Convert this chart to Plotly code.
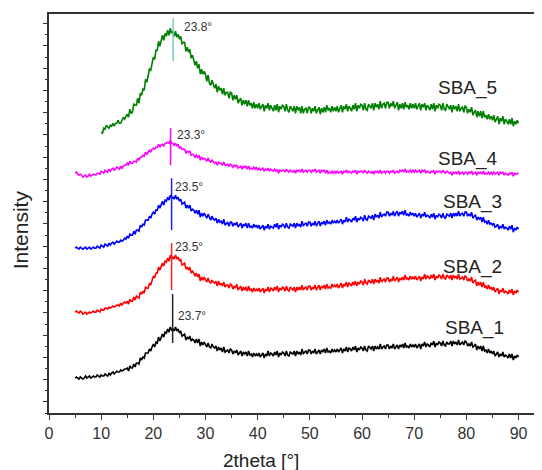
import plotly.graph_objects as go

# Intensity (a.u., curves offset vertically as in the figure), sampled every 0.25 deg
# SBA_1..SBA_4: 5 -> 90 deg ; SBA_5: 10 -> 90 deg
sba1 = [35,36,35,34,36,35,34,35,37,35,36,37,35,36,37,36,36,38,37,36,
        38,37,37,39,38,37,40,38,40,41,39,41,42,41,41,43,42,43,44,44,
        45,42,47,45,45,49,46,50,50,49,55,53,56,55,60,60,60,64,62,66,
        69,66,71,70,76,72,76,79,76,81,80,84,81,86,83,84,82,86,82,84,
        80,82,77,78,79,73,76,74,77,72,74,73,70,74,70,74,67,71,68,71,
        69,66,70,66,65,69,66,65,67,62,66,63,65,61,66,61,62,63,60,64,
        63,59,62,60,63,58,60,62,57,61,59,61,57,62,58,59,56,60,57,59,
        57,60,56,58,60,55,59,57,62,57,60,59,57,61,58,62,56,60,58,61,
        60,57,62,58,57,61,60,59,62,57,62,59,61,58,64,59,61,62,59,63,
        63,59,62,60,64,59,61,63,59,63,61,64,60,65,61,62,60,64,61,63,
        61,64,61,63,65,60,64,62,66,61,65,64,62,66,63,67,61,65,63,66,
        65,62,67,63,62,67,65,64,67,62,67,64,66,64,69,64,66,67,64,68,
        68,64,67,65,69,64,66,68,64,68,66,69,65,70,66,67,65,69,66,68,
        66,69,65,67,69,64,69,67,71,66,69,68,66,70,68,72,66,70,68,71,
        70,67,72,68,67,71,69,69,72,67,72,69,71,68,73,68,70,71,68,72,
        71,67,69,67,71,66,67,69,63,67,64,67,62,67,62,63,60,64,60,62,
        59,62,57,59,61,56,59,57,61,56,58,57,55,59,55,59,53,57,55,58,
        56]

sba2 = [101,102,101,100,102,101,99,100,101,99,100,101,100,101,102,101,101,103,102,101,
        104,103,103,105,105,104,106,105,106,107,106,107,108,108,107,110,108,110,111,110,
        112,109,114,112,112,116,113,117,116,115,121,119,122,120,126,125,125,130,128,133,
        137,135,140,140,146,143,147,150,147,152,151,155,152,158,154,156,154,158,154,156,
        152,154,148,149,150,144,146,143,146,140,142,140,137,140,136,139,132,136,133,136,
        134,131,135,131,130,133,131,130,132,127,132,128,130,127,131,126,128,128,125,129,
        128,124,127,125,129,123,125,127,122,126,123,126,122,127,123,124,121,125,122,124,
        122,125,121,123,125,120,124,122,126,121,125,124,122,126,123,127,121,125,123,126,
        125,122,127,123,122,126,124,123,126,121,126,123,126,123,128,123,125,126,123,127,
        127,123,126,124,128,123,126,128,123,127,125,128,124,129,125,126,125,129,126,128,
        126,129,125,127,130,125,129,127,131,126,130,129,127,131,128,132,127,131,129,132,
        131,128,134,130,129,133,131,130,134,129,134,131,133,130,136,131,133,134,131,135,
        135,131,134,132,137,132,134,136,131,135,133,136,133,138,134,135,133,137,134,136,
        134,137,133,135,137,132,136,134,139,134,137,136,134,138,135,139,133,137,135,138,
        137,134,139,135,134,138,136,135,138,133,138,135,137,134,139,134,135,136,133,137,
        136,132,134,132,136,130,132,133,127,131,128,131,126,131,126,127,124,128,124,126,
        123,126,121,123,125,119,123,121,125,120,122,121,119,123,120,124,118,122,120,123,
        121]

sba3 = [165,166,165,164,166,165,164,165,166,164,165,166,164,165,166,165,165,167,166,165,
        168,167,166,169,168,167,170,168,170,171,169,171,172,171,171,173,172,173,175,174,
        177,175,179,178,178,182,179,183,183,182,188,186,189,188,193,193,193,197,195,199,
        201,199,203,203,208,205,208,212,208,213,212,216,213,218,215,216,214,218,214,216,
        212,214,209,210,211,205,208,205,208,202,204,203,200,203,199,203,196,200,197,200,
        198,195,199,195,193,197,194,193,195,190,194,191,192,189,194,188,190,191,187,191,
        191,187,190,188,191,186,188,190,185,189,187,190,185,190,186,187,185,189,186,188,
        185,188,184,186,188,183,187,185,189,184,187,186,185,189,186,190,184,188,186,189,
        188,185,190,186,185,189,188,187,190,185,190,187,189,186,192,187,189,190,187,191,
        191,187,190,188,192,187,190,192,187,191,189,192,188,193,190,191,189,193,190,192,
        190,193,190,192,194,189,193,191,196,191,194,193,191,195,193,197,191,195,193,196,
        195,192,198,194,193,197,196,195,198,193,199,196,198,195,201,196,198,199,197,201,
        201,197,200,198,202,197,200,202,197,201,199,202,198,203,198,199,197,201,198,200,
        197,200,196,198,200,195,199,197,201,196,198,197,195,199,196,200,194,198,196,199,
        198,195,200,196,195,199,198,197,200,195,200,197,200,197,202,197,199,200,197,201,
        201,197,199,197,201,195,197,198,193,196,194,196,191,196,191,192,189,193,189,190,
        188,190,186,187,189,184,187,185,189,184,186,185,183,187,184,188,181,185,183,186,
        184]

sba4 = [240,241,239,238,239,238,236,237,238,236,237,239,237,238,239,239,238,240,240,239,
        242,241,240,243,242,241,244,242,244,245,243,245,246,245,244,247,245,247,248,248,
        250,248,252,250,250,252,252,251,255,253,256,256,258,257,261,259,261,263,261,264,
        265,264,266,266,269,266,268,269,267,270,270,271,270,273,270,270,268,270,267,269,
        265,266,264,264,264,260,262,261,262,258,259,258,256,258,256,258,253,256,254,255,
        254,252,255,252,251,253,251,250,251,248,251,250,250,248,251,248,248,249,247,249,
        248,246,248,247,248,245,246,247,244,247,246,247,244,247,244,245,244,246,244,246,
        243,245,243,244,245,242,244,243,245,242,244,243,242,244,242,244,240,243,242,243,
        243,241,244,242,241,243,242,241,243,240,243,242,243,241,244,241,242,243,241,243,
        243,241,243,242,244,241,242,243,240,243,242,243,240,243,240,241,240,242,240,242,
        240,242,240,241,242,239,242,241,243,240,242,241,240,242,241,243,239,242,241,242,
        242,240,243,241,240,242,241,240,242,239,242,241,242,240,243,240,241,242,240,242,
        242,240,242,241,243,240,241,242,240,243,242,243,241,244,241,242,241,243,241,243,
        241,243,241,242,243,240,243,242,243,240,242,241,240,242,241,243,239,242,241,242,
        242,240,243,241,240,242,241,240,241,238,241,240,241,239,242,239,240,241,239,241,
        241,239,241,240,242,239,240,241,238,241,240,241,239,242,239,240,239,241,239,241,
        239,241,239,240,241,238,241,240,241,238,240,239,238,240,239,241,237,240,239,240,
        239]

sba5 = [281,280,285,284,288,286,285,288,287,290,287,290,290,293,290,290,294,296,294,297,
        299,296,304,300,301,309,308,308,315,310,320,318,324,323,334,331,339,344,343,352,
        356,354,363,363,372,367,373,378,373,380,377,383,378,385,380,382,377,382,376,379,
        374,377,369,371,371,362,366,361,364,355,358,353,348,352,345,349,339,344,339,342,
        339,332,338,330,328,333,328,325,329,321,327,323,325,319,325,318,321,321,315,321,
        320,313,318,314,318,310,313,315,308,313,309,313,307,313,308,310,305,311,305,309,
        305,310,304,307,309,302,308,305,310,303,308,305,302,308,303,309,301,307,304,308,
        307,302,309,303,301,307,304,302,307,300,307,303,306,300,307,300,304,305,300,306,
        306,300,305,302,307,300,303,306,299,305,301,306,301,308,303,305,301,307,302,306,
        302,307,301,305,308,301,307,304,309,302,307,305,302,308,304,310,302,308,305,309,
        308,303,310,304,303,309,307,305,310,303,310,306,309,304,312,305,309,310,305,311,
        311,305,310,307,312,305,308,311,303,309,305,310,304,311,306,308,304,310,305,309,
        305,310,304,308,310,303,309,306,310,303,308,306,303,309,304,310,302,308,305,309,
        308,303,310,304,303,309,306,304,308,301,308,304,307,302,309,302,305,306,301,307,
        306,300,304,301,306,298,301,303,296,302,297,302,295,302,296,298,294,299,294,297,
        293,298,291,295,297,289,295,292,297,289,294,292,289,294,289,295,287,292,289,293,
        290]

start_deg = [5, 5, 5, 5, 10]
step_deg = 0.25

names = ["SBA_1", "SBA_2", "SBA_3", "SBA_4", "SBA_5"]
colors = ["#000000", "#ff0000", "#0000ff", "#ff00ff", "#008000"]
peak_pos = [23.7, 23.5, 23.5, 23.3, 23.8]
peak_top = [119, 170, 235, 285, 395]
peak_bot = [70, 123, 183, 248, 352]
peak_line_colors = ["#222222", "#ff2020", "#2020ff", "#ff00ff", "#7cc7c7"]

label_x = [81.5, 81.1, 81.1, 80.3, 80.2]
label_y = [85, 146, 211, 254, 325]
peak_lbl_x = [24.3, 23.8, 23.8, 24.2, 25.5]
peak_lbl_y = [97, 166, 226, 278, 386]

series_y = [sba1, sba2, sba3, sba4, sba5]

fig = go.Figure()
for i in range(5):
    ys = series_y[i]
    xs = [start_deg[i] + step_deg * k for k in range(len(ys))]
    fig.add_trace(go.Scatter(x=xs, y=ys, mode="lines",
                             line=dict(color=colors[i], width=1.6),
                             name=names[i], showlegend=False))
for i in range(5):
    fig.add_trace(go.Scatter(x=[peak_pos[i], peak_pos[i]], y=[peak_bot[i], peak_top[i]],
                             mode="lines", line=dict(color=peak_line_colors[i], width=1.5),
                             showlegend=False))

font = "Liberation Sans, Arial, sans-serif"
for i in range(5):
    fig.add_annotation(x=label_x[i], y=label_y[i], text=names[i], showarrow=False,
                       xanchor="center", yanchor="middle",
                       font=dict(family=font, size=19, color="#222222"))
    fig.add_annotation(x=peak_lbl_x[i], y=peak_lbl_y[i], text=f"{peak_pos[i]}°",
                       showarrow=False, xanchor="left", yanchor="middle",
                       font=dict(family=font, size=12, color="#333333"))

fig.add_annotation(xref="paper", yref="paper", x=0.43, y=-0.118, text="2theta [°]",
                   showarrow=False, xanchor="center", yanchor="middle",
                   font=dict(family=font, size=19, color="#222222"))
fig.add_annotation(xref="paper", yref="paper", x=-0.058, y=0.459, text="Intensity",
                   showarrow=False, xanchor="center", yanchor="middle", textangle=-90,
                   font=dict(family=font, size=21, color="#222222"))

tick_step = 11.13
fig.update_layout(
    width=534, height=462,
    margin=dict(l=41, r=0, t=6, b=57),
    paper_bgcolor="white", plot_bgcolor="white",
    xaxis=dict(range=[0, 94.5], tickmode="linear", tick0=0, dtick=10,
               ticks="outside", ticklen=5, tickwidth=1.3, tickcolor="#333333",
               showline=True, linecolor="#333333", linewidth=1.6, mirror=True,
               showgrid=False, zeroline=False,
               tickfont=dict(family=font, size=16, color="#333333"),
               minor=dict(ticks="outside", ticklen=3, tickwidth=1.2, dtick=5, tick0=0,
                          tickcolor="#333333", showgrid=False)),
    yaxis=dict(range=[0, 399.3], tickmode="linear", tick0=tick_step, dtick=2 * tick_step,
               ticks="outside", ticklen=4, tickwidth=1.3, tickcolor="#333333",
               showticklabels=False,
               showline=True, linecolor="#333333", linewidth=1.6,
               showgrid=False, zeroline=False,
               minor=dict(ticks="outside", ticklen=2.5, tickwidth=1.2, dtick=tick_step, tick0=0,
                          tickcolor="#333333", showgrid=False)),
)

fig.write_html("out.html")
